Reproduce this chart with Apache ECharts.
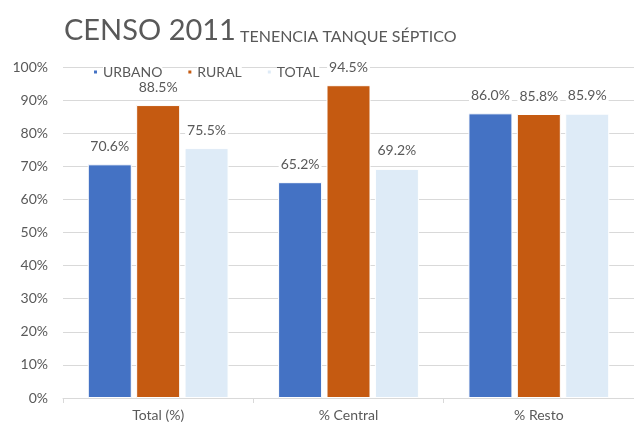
<!DOCTYPE html>
<html>
  <head>
    <meta charset="UTF-8">
    <script src="https://cdn.jsdelivr.net/npm/echarts@6/dist/echarts.min.js"></script>
    <title>CENSO 2011</title>
    <style>html,body{margin:0;padding:0;background:#fff;}</style>
  </head>
  <body>
    <div id="main" style="width:634px;height:425px;"></div>
  </body>
  <script>
var categories = ['Total (%)', '% Central', '% Resto'];
var urbano = [70.6, 65.2, 86.0];
var rural = [88.5, 94.5, 85.8];
var total = [75.5, 69.2, 85.9];
var yTicks = [0, 10, 20, 30, 40, 50, 60, 70, 80, 90, 100];

var chart = echarts.init(document.getElementById('main'));
var txt = '#595959';
var font = 'Lato, "Open Sans", sans-serif';

function barSeries(name, data, color) {
    return {
        name: name,
        type: 'bar',
        data: data,
        barWidth: 44,
        barGap: '10%',
        itemStyle: { color: color, borderColor: '#fff', borderWidth: 1 },
        label: {
            show: true,
            position: 'top',
            distance: 10,
            color: txt,
            fontFamily: font,
            fontSize: 14,
            backgroundColor: '#fff',
            padding: [1, 2],
            formatter: function (p) { return p.value.toFixed(1) + '%'; }
        }
    };
}

option = {
    animation: false,
    title: {
        left: 59,
        top: 6,
        text: '{a|CENSO 2011}{b| TENENCIA TANQUE SÉPTICO}',
        textStyle: {
            rich: {
                a: { fontFamily: font, fontSize: 29, fontWeight: 'normal', color: txt, verticalAlign: 'bottom', lineHeight: 34 },
                b: { fontFamily: font, fontSize: 16, fontWeight: 'normal', color: txt, verticalAlign: 'bottom', lineHeight: 26 }
            }
        }
    },
    legend: {
        left: 87,
        top: 59,
        icon: 'rect',
        itemWidth: 5,
        itemHeight: 5,
        itemGap: 24,
        textStyle: { color: txt, fontFamily: font, fontSize: 14, backgroundColor: '#fff', padding: [1, 0] },
        data: ['URBANO', 'RURAL', 'TOTAL']
    },
    grid: { left: 63, right: -5, top: 67, bottom: 27 },
    xAxis: {
        type: 'category',
        data: categories,
        axisLine: { lineStyle: { color: '#d9d9d9' } },
        axisTick: { show: true, length: 5, lineStyle: { color: '#d9d9d9' } },
        axisLabel: { color: txt, fontFamily: font, fontSize: 14, margin: 10 }
    },
    yAxis: {
        type: 'value',
        min: yTicks[0],
        max: yTicks[yTicks.length - 1],
        interval: 10,
        axisLine: { show: false },
        axisTick: { show: false },
        splitLine: { lineStyle: { color: '#d9d9d9' } },
        axisLabel: { color: txt, fontFamily: font, fontSize: 14, margin: 15, formatter: '{value}%' }
    },
    series: [
        barSeries('URBANO', urbano, '#4472c4'),
        barSeries('RURAL', rural, '#c55a11'),
        barSeries('TOTAL', total, '#deebf7')
    ]
};

chart.setOption(option);
  </script>
</html>
